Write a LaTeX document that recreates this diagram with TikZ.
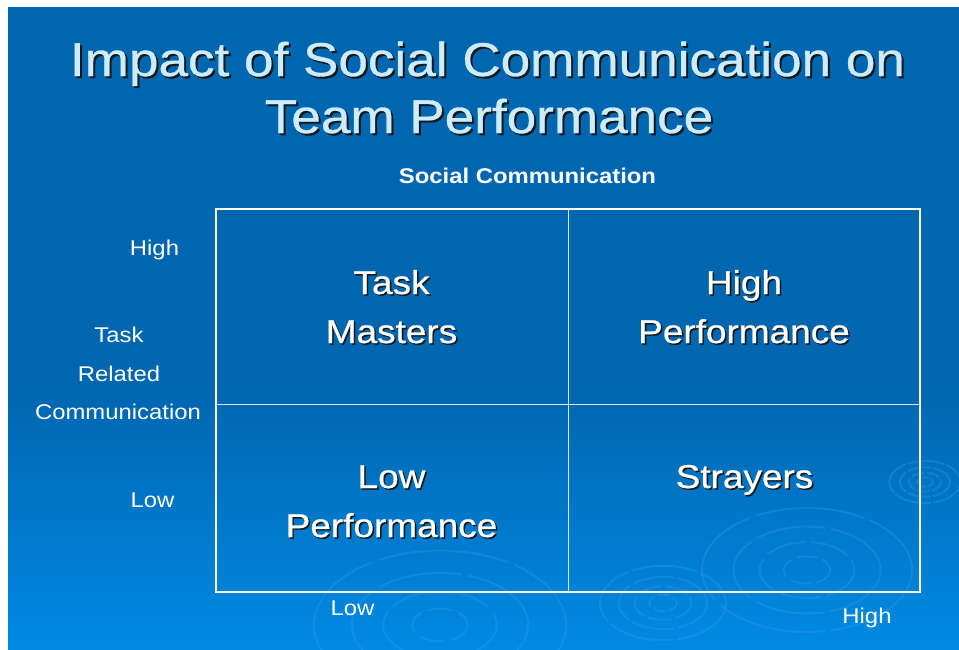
\documentclass[tikz,border=0pt]{standalone}
\usepackage{fontspec}
\setmainfont{Liberation Sans}[FakeStretch=1.12]
\newfontfamily\heavysans{Liberation Sans}[FakeStretch=1.12, FakeBold=0.7]
\definecolor{slidetop}{RGB}{0,102,176}
\definecolor{slidebot}{RGB}{0,138,227}
\definecolor{titleblue}{RGB}{204,236,255}
\definecolor{ripplecol}{RGB}{60,160,235}

% text drawn twice: dark copy shifted, then the real one
\newcommand\shtext[6]{%
  \node[#2, text=black!90] (#1-sh) at (#3+#6,#4+#6) {#5};
  \node[#2] (#1) at (#3,#4) {#5};}

\begin{document}
\begin{tikzpicture}[x=1pt,y=-1pt,
    title/.style={font=\heavysans\fontsize{47.4}{50}\selectfont, text=titleblue, inner sep=0pt, anchor=base},
    quad/.style={font=\heavysans\fontsize{33}{36}\selectfont, text=white, inner sep=0pt, anchor=base},
    axislabel/.style={font=\fontsize{21.3}{24}\selectfont, text=white, inner sep=0pt, anchor=base},
    ripple/.style={draw=ripplecol, line width=2pt, opacity=0.3}]
  \useasboundingbox (0,0) rectangle (959,649);
  % slide background
  \fill[white] (0,0) rectangle (959,649);
  \fill[slidetop] (8,7) rectangle (959,390);
  \shade[top color=slidetop, bottom color=slidebot] (8,390) rectangle (959,649);

  % water ripples
  \foreach \cx/\cy/\s in {807/570/1, 925/482/0.34, 663/603/0.6, 440/625/1.2}
    \foreach \r/\d in {0.22/20, 0.45/40, 0.7/70, 1/110}
      \draw[ripple, dash pattern=on {\d*\s} off {6*\s}] (\cx,\cy) ellipse ({105*\s*\r} and {62*\s*\r});

  % title
  \shtext{t1}{title}{487.5}{76}{Impact of Social Communication on}{2}
  \shtext{t2}{title}{489}{133}{Team Performance}{2}

  \node[axislabel, font=\fontsize{21.3}{24}\selectfont\bfseries] (soc) at (527.5,183) {Social Communication};

  % the grid
  \coordinate (nw) at (216,209);
  \coordinate (se) at (920,592);
  \coordinate (mt) at (568,209);
  \coordinate (mb) at (568,592);
  \coordinate (ml) at (216,404);
  \coordinate (mr) at (920,404);
  \draw[white!85!slidetop, line width=0.9pt] (mt) -- (mb) (ml) -- (mr);
  \draw[white, line width=2.2pt] (nw) rectangle (se);

  % quadrants
  \shtext{q1a}{quad}{391.5}{294}{Task}{1.5}
  \shtext{q1b}{quad}{391.5}{343}{Masters}{1.5}
  \shtext{q2a}{quad}{744}{294}{High}{1.5}
  \shtext{q2b}{quad}{744}{343}{Performance}{1.5}
  \shtext{q3a}{quad}{391.5}{488}{Low}{1.5}
  \shtext{q3b}{quad}{391.5}{537}{Performance}{1.5}
  \shtext{q4a}{quad}{744.5}{488}{Strayers}{1.5}

  % axis labels
  \node[axislabel] (yhigh) at (154.5,255) {High};
  \node[axislabel] (ytask) at (119,342) {Task};
  \node[axislabel] (yrel) at (119,381) {Related};
  \node[axislabel] (ycomm) at (118,419) {Communication};
  \node[axislabel] (ylow) at (152.5,507) {Low};
  \node[axislabel] (xlow) at (352.5,615) {Low};
  \node[axislabel] (xhigh) at (867,623) {High};
\end{tikzpicture}
\end{document}
